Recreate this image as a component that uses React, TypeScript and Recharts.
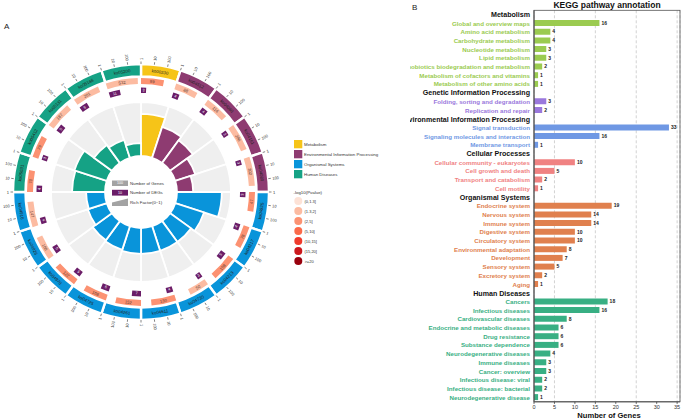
import React from 'react';
import {
  PieChart, Pie, Cell, RadialBarChart, RadialBar, PolarAngleAxis, PolarRadiusAxis,
  BarChart, Bar, XAxis, YAxis, CartesianGrid, LabelList,
} from 'recharts';

const FONT = '"Liberation Sans", Arial, Helvetica, sans-serif';

// ---------- panel A: 20 pathways, clockwise from 12 o'clock ----------
const koIds = [
  'ko00330', 'ko04512', 'ko04060', 'ko04151', 'ko04080',
  'ko04925', 'ko04217', 'ko04213', 'ko04730', 'ko04611',
  'ko04261', 'ko04725', 'ko04970', 'ko04926', 'ko04916',
  'ko05031', 'ko05412', 'ko05131', 'ko05166', 'ko05200',
];
const koClass = [0, 1, 1, 1, 1, 2, 2, 2, 2, 2, 2, 2, 2, 2, 2, 3, 3, 3, 3, 3];
const koGenes = [89, 88, 114, 206, 302, 47, 78, 158, 50, 130, 152, 108, 122, 108, 147, 70, 79, 187, 201, 532];
const koDegs = [3, 4, 4, 3, 3, 3, 4, 5, 3, 4, 7, 6, 5, 5, 4, 4, 3, 5, 6, 11];
const koRich = [0.78, 0.6, 0.52, 0.39, 0.3, 0.83, 0.56, 0.48, 0.48, 0.48, 0.48, 0.46, 0.44, 0.37, 0.35, 0.61, 0.63, 0.41, 0.35, 0.24];
const koPLevel = [2, 1, 1, 1, 1, 2, 2, 2, 1, 2, 2, 2, 2, 1, 1, 2, 2, 1, 1, 1];

const classNames = ['Metabolism', 'Environmental Information Processing', 'Organismal Systems', 'Human Diseases'];
const classColors = ['#f6c418', '#8e3b71', '#0994da', '#15a285'];

const pLabels = ['(0,1.3]', '(1.3,2]', '(2,5]', '(5,10]', '(10,15]', '(15,20]', '>=20'];
const pColors = ['#fde2d6', '#fcbba1', '#fc9272', '#fb6a4a', '#ef3b2c', '#cb181d', '#99000d'];

const tickValues = [1, 10, 100];
const LOG_SPAN = 3; // each sector covers 1..1000 on a log scale

// ---------- panel B ----------
const metabolismTerms = ['Global and overview maps', 'Amino acid metabolism', 'Carbohydrate metabolism', 'Nucleotide metabolism', 'Lipid metabolism', 'Xenobiotics biodegradation and metabolism', 'Metabolism of cofactors and vitamins', 'Metabolism of other amino acids'];
const metabolismGenes = [16, 4, 4, 3, 3, 2, 1, 1];
const geneticTerms = ['Folding, sorting and degradation', 'Replication and repair'];
const geneticGenes = [3, 2];
const environmentalTerms = ['Signal transduction', 'Signaling molecules and interaction', 'Membrane transport'];
const environmentalGenes = [33, 16, 1];
const cellularTerms = ['Cellular community - eukaryotes', 'Cell growth and death', 'Transport and catabolism', 'Cell motility'];
const cellularGenes = [10, 5, 2, 1];
const organismalTerms = ['Endocrine system', 'Nervous system', 'Immune system', 'Digestive system', 'Circulatory system', 'Environmental adaptation', 'Development', 'Sensory system', 'Excretory system', 'Aging'];
const organismalGenes = [19, 14, 14, 10, 10, 8, 7, 5, 2, 1];
const diseaseTerms = ['Cancers', 'Infectious diseases', 'Cardiovascular diseases', 'Endocrine and metabolic diseases', 'Drug resistance', 'Substance dependence', 'Neurodegenerative diseases', 'Immune diseases', 'Cancer: overview', 'Infectious disease: viral', 'Infectious disease: bacterial', 'Neurodegenerative disease'];
const diseaseGenes = [18, 16, 8, 6, 6, 6, 4, 3, 3, 2, 2, 1];
const xTicks = [0, 5, 10, 15, 20, 25, 30, 35];

const groups = [
  { title: 'Metabolism', terms: metabolismTerms, genes: metabolismGenes, color: '#9bcb50' },
  { title: 'Genetic Information Processing', terms: geneticTerms, genes: geneticGenes, color: '#9a78dc' },
  { title: 'Environmental Information Processing', terms: environmentalTerms, genes: environmentalGenes, color: '#6f98e4' },
  { title: 'Cellular Processes', terms: cellularTerms, genes: cellularGenes, color: '#f08282' },
  { title: 'Organismal Systems', terms: organismalTerms, genes: organismalGenes, color: '#e0804e' },
  { title: 'Human Diseases', terms: diseaseTerms, genes: diseaseGenes, color: '#38af83' },
];

const barRows: any[] = [];
groups.forEach(g => {
  barRows.push({ name: g.title, value: null, header: true, color: '#111' });
  g.terms.forEach((t, i) => barRows.push({ name: t, value: g.genes[i], header: false, color: g.color }));
});
const rowByName: Record<string, any> = {};
barRows.forEach(r => { rowByName[r.name] = r; });

// ---------- helpers ----------
const RAD = Math.PI / 180;
const polar = (cx: number, cy: number, r: number, a: number) => ({
  x: cx + r * Math.cos(-a * RAD),
  y: cy + r * Math.sin(-a * RAD),
});
const compass = (a: number) => (((90 - a) % 360) + 360) % 360;
const alongRot = (a: number) => {
  const t = compass(a);
  return t > 90.01 && t < 269.99 ? t - 180 : t;
};

const ringRows = koIds.map(id => ({ id, one: 1 }));
const geneSlices = koGenes.flatMap((g, i) => [
  { id: koIds[i] + '-g', v: Math.log10(g) },
  { id: koIds[i] + '-r', v: LOG_SPAN - Math.log10(g) },
]);
const degSlices = koDegs.flatMap((d, i) => [
  { id: koIds[i] + '-d', v: Math.log10(d) },
  { id: koIds[i] + '-r', v: LOG_SPAN - Math.log10(d) },
]);
const richRows = koIds.map((id, i) => ({ id, rich: koRich[i], cls: koClass[i] }));

const CX = 141;
const CY = 192;

const renderOuter = (p: any) => {
  const { cx, cy, startAngle, endAngle, index } = p;
  const mid = (startAngle + endAngle) / 2;
  const c = polar(cx, cy, 121.5, mid);
  const step = (endAngle - startAngle) / LOG_SPAN;
  return (
    <g>
      <text x={c.x} y={c.y} transform={`rotate(${alongRot(mid)} ${c.x} ${c.y})`} textAnchor="middle"
        dominantBaseline="central" fontSize={4.4} fill="#222" fontFamily={FONT}>{koIds[index]}</text>
      {tickValues.map(tv => {
        const a = startAngle + step * Math.log10(tv);
        const p1 = polar(cx, cy, 128, a);
        const p2 = polar(cx, cy, 130.5, a);
        const pt = polar(cx, cy, 132, a);
        const t = compass(a);
        const right = t <= 180.01 || t >= 359.99;
        const rot = right ? t - 90 : t + 90;
        return (
          <g key={tv}>
            <line x1={p1.x} y1={p1.y} x2={p2.x} y2={p2.y} stroke="#333" strokeWidth={0.6} />
            <text x={pt.x} y={pt.y} transform={`rotate(${rot} ${pt.x} ${pt.y})`} textAnchor={right ? 'start' : 'end'}
              dominantBaseline="central" fontSize={4} fill="#333" fontFamily={FONT}>{tv}</text>
          </g>
        );
      })}
    </g>
  );
};

const renderGene = (p: any) => {
  const { cx, cy, startAngle, endAngle, index } = p;
  if (index % 2) return null;
  const mid = (startAngle + endAngle) / 2;
  const c = polar(cx, cy, 111, mid);
  return (
    <text x={c.x} y={c.y} transform={`rotate(${alongRot(mid)} ${c.x} ${c.y})`} textAnchor="middle"
      dominantBaseline="central" fontSize={4.2} fill="#5a3a30" fontFamily={FONT}>{koGenes[index / 2]}</text>
  );
};

const renderDeg = (p: any) => {
  const { cx, cy, startAngle, endAngle, index } = p;
  if (index % 2) return null;
  const mid = (startAngle + endAngle) / 2;
  const c = polar(cx, cy, 101.5, mid);
  return (
    <text x={c.x} y={c.y} transform={`rotate(${alongRot(mid)} ${c.x} ${c.y})`} textAnchor="middle"
      dominantBaseline="central" fontSize={3.8} fill="#fff" fontFamily={FONT}>{koDegs[index / 2]}</text>
  );
};

const YTick = (props: any) => {
  const { x, y, payload } = props;
  const row = rowByName[payload.value];
  if (!row) return null;
  return (
    <text x={x} y={y} dy="0.35em" textAnchor="end" fontSize={row.header ? 7.1 : 6.2} fontWeight="bold"
      fill={row.color} fontFamily={FONT}>{payload.value}</text>
  );
};

const abs = (l: number, t: number, w: number, h: number): React.CSSProperties => ({
  position: 'absolute', left: l, top: t, width: w, height: h,
});

export default function App() {
  return (
    <div style={{ ...abs(0, 0, 685, 420), background: '#fff', overflow: 'hidden', fontFamily: FONT }}>
      {/* grey sectors behind the rich factor bars */}
      <div style={abs(0, 0, 290, 340)}>
        <PieChart width={290} height={340} margin={{ top: 0, right: 0, bottom: 0, left: 0 }}>
          <Pie data={ringRows} dataKey="one" nameKey="id" cx={CX} cy={CY} innerRadius={36} outerRadius={90}
            startAngle={90} endAngle={-270} fill="#efefef" stroke="#fff" strokeWidth={1.8} isAnimationActive={false} />
        </PieChart>
      </div>

      {/* rich factor bars; the angle axis puts each band one step ahead, so the range starts at 72 */}
      <div style={abs(0, 0, 290, 340)}>
        <RadialBarChart width={290} height={340} cx={CX} cy={CY} innerRadius={36} outerRadius={90}
          startAngle={72} endAngle={-288} layout="centric" data={richRows} barCategoryGap={0}
          margin={{ top: 0, right: 0, bottom: 0, left: 0 }}>
          <PolarAngleAxis type="category" dataKey="id" tick={false} axisLine={false} tickLine={false} />
          <PolarRadiusAxis type="number" domain={[0, 1]} tick={false} axisLine={false} tickLine={false} />
          <RadialBar dataKey="rich" isAnimationActive={false} stroke="#fff" strokeWidth={1.8}>
            {richRows.map(r => <Cell key={r.id} fill={classColors[r.cls]} />)}
          </RadialBar>
        </RadialBarChart>
      </div>

      {/* outer rings */}
      <div style={abs(0, 0, 290, 340)}>
        <PieChart width={290} height={340} margin={{ top: 0, right: 0, bottom: 0, left: 0 }}>
          <Pie data={ringRows} dataKey="one" nameKey="id" cx={CX} cy={CY} innerRadius={115.5} outerRadius={128}
            startAngle={90} endAngle={-270} stroke="#fff" strokeWidth={2.4} isAnimationActive={false}
            label={renderOuter} labelLine={false}>
            {ringRows.map((r, i) => <Cell key={r.id} fill={classColors[koClass[i]]} />)}
          </Pie>
          <Pie data={geneSlices} dataKey="v" nameKey="id" cx={CX} cy={CY} innerRadius={108} outerRadius={114}
            startAngle={90} endAngle={-270} stroke="none" isAnimationActive={false}
            label={renderGene} labelLine={false}>
            {geneSlices.map((s, i) => (
              <Cell key={i} fill={i % 2 ? 'transparent' : pColors[koPLevel[i >> 1]]} />
            ))}
          </Pie>
          <Pie data={degSlices} dataKey="v" nameKey="id" cx={CX} cy={CY} innerRadius={99} outerRadius={104.5}
            startAngle={90} endAngle={-270} stroke="none" isAnimationActive={false}
            label={renderDeg} labelLine={false}>
            {degSlices.map((s, i) => (
              <Cell key={i} fill={i % 2 ? 'transparent' : '#6b1d68'} />
            ))}
          </Pie>
        </PieChart>
      </div>

      {/* panel B */}
      <div style={{ ...abs(410, 0, 275, 420), overflow: 'hidden' }}>
        <BarChart width={275} height={420} layout="vertical" data={barRows} barCategoryGap={0}
          margin={{ top: 10.3, right: 5, bottom: 0, left: 0 }}>
          <CartesianGrid horizontal={false} stroke="#d2d2d2" strokeDasharray="3 2" />
          <XAxis type="number" domain={[0, 35.7]} ticks={xTicks} height={18.2} tickSize={2} tickMargin={1}
            tick={{ fontSize: 5.5, fill: '#333', fontFamily: FONT }} stroke="#555" />
          <YAxis type="category" dataKey="name" width={124} interval={0} tickLine={false} tickSize={2} tickMargin={2}
            axisLine={{ stroke: '#555' }} tick={(p: any) => <YTick {...p} />} />
          <Bar dataKey="value" barSize={6} isAnimationActive={false}>
            {barRows.map((r, i) => <Cell key={i} fill={r.color} />)}
            <LabelList dataKey="value" position="right" offset={2} fontSize={5} fontWeight="bold" fill="#222"
              fontFamily={FONT} />
          </Bar>
        </BarChart>
      </div>

      {/* annotations and legends */}
      <svg width={685} height={420} style={{ position: 'absolute', left: 0, top: 0, pointerEvents: 'none' }}
        fontFamily={FONT}>
        <text x={4} y={29} fontSize={8} fill="#222">A</text>
        <text x={412} y={10} fontSize={8} fill="#222">B</text>
        <text x={607} y={8} fontSize={8.5} fontWeight="bold" textAnchor="middle" fill="#111">KEGG pathway annotation</text>
        <text x={609} y={418} fontSize={7.6} fontWeight="bold" textAnchor="middle" fill="#111">Number of Genes</text>
        <rect x={534} y={10.3} width={146} height={391.5} fill="none" stroke="#555" strokeWidth={0.8} />

        {/* centre legend */}
        <rect x={112} y={180.5} width={16} height={5.5} fill="#a3a3a3" />
        <text x={120} y={183.4} fontSize={3.6} fill="#fff" textAnchor="middle" dominantBaseline="central">100</text>
        <text x={130} y={183.4} fontSize={4.3} fill="#333" dominantBaseline="central">Number of Genes</text>
        <rect x={112} y={189.8} width={16} height={5.8} fill="#6b1d68" />
        <text x={120} y={192.8} fontSize={3.6} fill="#fff" textAnchor="middle" dominantBaseline="central">10</text>
        <text x={130} y={192.8} fontSize={4.3} fill="#333" dominantBaseline="central">Number of DEGs</text>
        <path d="M112 206 L112 202.6 L128 198.4 L128 206 Z" fill="#a3a3a3" />
        <text x={130} y={202.4} fontSize={4.3} fill="#333" dominantBaseline="central">Rich Factor(0~1)</text>

        {/* class legend */}
        {classNames.map((n, i) => (
          <g key={n}>
            <rect x={294} y={140 + i * 10} width={8.3} height={8.3} fill={classColors[i]} />
            <text x={304} y={144.2 + i * 10} fontSize={4.4} fill="#333" dominantBaseline="central">{n}</text>
          </g>
        ))}
        <text x={293.5} y={192} fontSize={4.4} fill="#333" dominantBaseline="central">-log10(Pvalue)</text>
        {pLabels.map((l, i) => (
          <g key={l}>
            <circle cx={298.3} cy={201 + i * 10} r={4} fill={pColors[i]} />
            <text x={304.5} y={201 + i * 10} fontSize={4} fill="#333" dominantBaseline="central">{l}</text>
          </g>
        ))}
      </svg>
    </div>
  );
}
